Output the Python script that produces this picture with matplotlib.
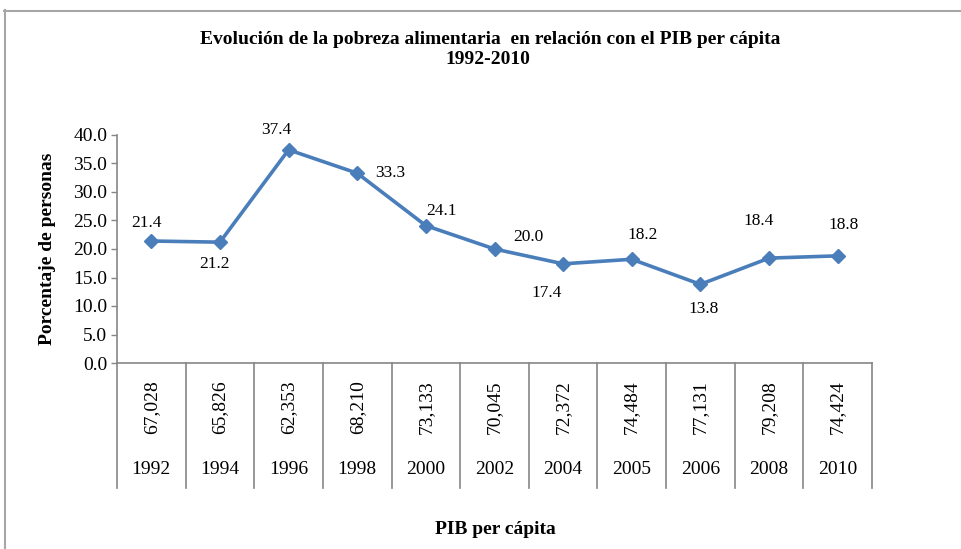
import matplotlib
matplotlib.use("Agg")
import matplotlib.pyplot as plt
from matplotlib.lines import Line2D
from matplotlib.ticker import FormatStrFormatter
import matplotlib.transforms as mtransforms

plt.rcParams['font.family'] = ['Liberation Serif', 'DejaVu Serif']

# datos
anios = ['1992', '1994', '1996', '1998', '2000', '2002', '2004', '2005', '2006', '2008', '2010']
pib = ['67,028', '65,826', '62,353', '68,210', '73,133', '70,045', '72,372', '74,484', '77,131', '79,208', '74,424']
pobreza = [21.4, 21.2, 37.4, 33.3, 24.1, 20.0, 17.4, 18.2, 13.8, 18.4, 18.8]

# desplazamiento de etiquetas (pixeles)
desp = [(-5, 18), (-5, -22), (-12, 20), (33, 0), (16, 15), (34, 12),
        (-16, -29), (11, 24), (3, -25), (-10, 37), (6, 31)]

azul = '#4A7EBB'
gris = '#868686'

fig = plt.figure(figsize=(9.61, 5.49), dpi=100)
ax = fig.add_axes([117/961, 1 - 363/549, (872-117)/961, (363-135)/549])

x = list(range(len(pobreza)))
ax.plot(x, pobreza, color=azul, lw=2.6, marker='D', ms=7, zorder=3)
for xi, v, (dx, dy) in zip(x, pobreza, desp):
    ax.annotate(f'{v:.1f}', (xi, v), xytext=(dx, dy), textcoords='offset pixels',
                ha='center', va='center', fontsize=12.5)

ax.set_xlim(-0.5, len(pobreza) - 0.5)
ax.set_ylim(0, 40)
ax.set_yticks(range(0, 41, 5))
ax.yaxis.set_major_formatter(FormatStrFormatter('%.1f'))
ax.tick_params(axis='y', labelsize=14, length=4, color=gris, width=1, pad=3)
ax.set_xticks([])
for s in ['top', 'right']:
    ax.spines[s].set_visible(False)
for s in ['left', 'bottom']:
    ax.spines[s].set_color(gris)
    ax.spines[s].set_linewidth(1.2)

# tabla de categorias bajo el eje
trans = mtransforms.blended_transform_factory(ax.transData, ax.transAxes)
for b in range(len(pobreza) + 1):
    ax.plot([b - 0.5, b - 0.5], [0, -0.548], transform=trans, color=gris,
            lw=1.2, clip_on=False)
for xi, p, a in zip(x, pib, anios):
    ax.text(xi, -0.193, p, transform=trans, rotation=90, ha='center', va='center',
            fontsize=14)
    ax.text(xi, -0.469, a, transform=trans, ha='center', va='center', fontsize=14)

fig.text(48/961, 1 - 249/549, 'Porcentaje de personas', rotation=90, ha='center',
         va='center', fontsize=14, fontweight='bold')
fig.text(495/961, 1 - 530/549, 'PIB per cápita', ha='center', va='center',
         fontsize=14, fontweight='bold')

fig.text(490/961, 1 - 39/549, 'Evolución de la pobreza alimentaria  en relación con el PIB per cápita',
         ha='center', va='center', fontsize=14, fontweight='bold')
fig.text(488/961, 1 - 60/549, '1992-2010', ha='center', va='center',
         fontsize=14, fontweight='bold')

# marco
fig.add_artist(Line2D([4.5/961, 4.5/961], [0, 1 - 10/549], transform=fig.transFigure,
                      color='#a6a6a6', lw=1.5))
fig.add_artist(Line2D([4/961, 1], [1 - 10.5/549, 1 - 10.5/549], transform=fig.transFigure,
                      color='#a6a6a6', lw=1.5))

fig.savefig('out.png', dpi=100)
